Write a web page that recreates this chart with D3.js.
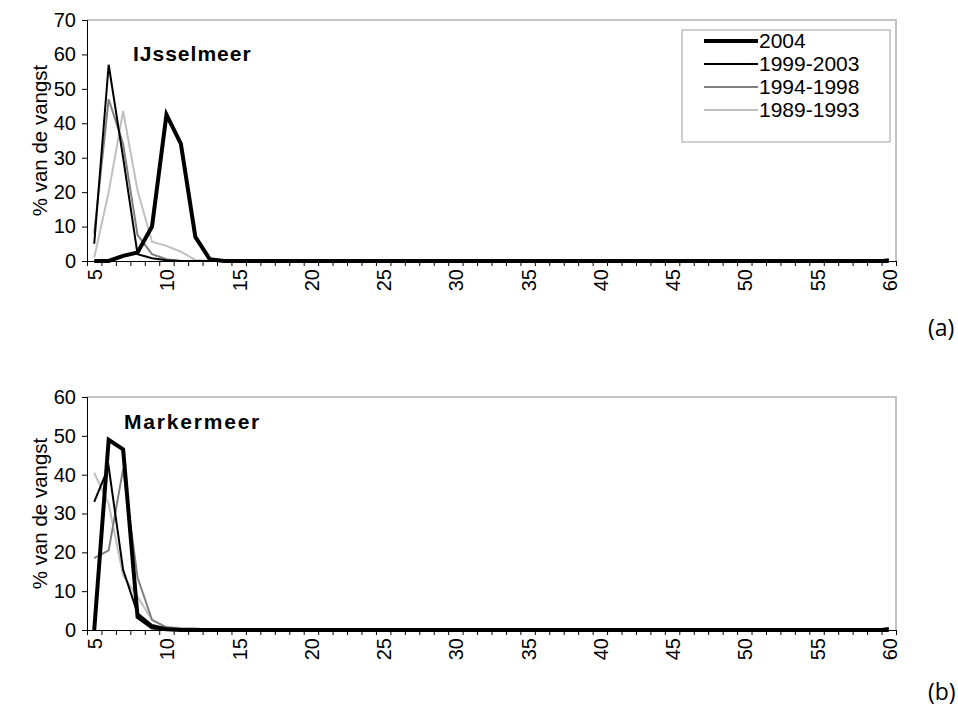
<!DOCTYPE html>
<html>
<head>
<meta charset="utf-8">
<script src="https://cdn.jsdelivr.net/npm/d3@7"></script>
<style>
  body { margin: 0; background: #fff; }
  svg { display: block; font-family: "Liberation Sans", Arial, sans-serif; }
</style>
</head>
<body>
<svg id="chart" width="958" height="709"></svg>
<script>
// length classes (cm), one category per class
const categories = [5,6,7,8,9,10,11,12,13,14,15,16,17,18,19,20,21,22,23,24,25,26,27,28,29,30,
  31,32,33,34,35,36,37,38,39,40,41,42,43,44,45,46,47,48,49,50,51,52,53,54,55,56,57,58,59,60];
const tickLabels = [5,10,15,20,25,30,35,40,45,50,55,60];
const seriesNames = ["2004", "1999-2003", "1994-1998", "1989-1993"];

// IJsselmeer
const ijssel2004 = [0,0,1.5,2.5,10,42.5,34,7,0.5,0,0,0,0,0,0,0,0,0,0,0,0,0,0,0,0,0,0,0,0,0,0,0,0,0,0,0,0,0,0,0,0,0,0,0,0,0,0,0,0,0,0,0,0,0,0,0];
const ijssel9903 = [5,57,30,2,0.8,0.2,0,0,0,0,0,0,0,0,0,0,0,0,0,0,0,0,0,0,0,0,0,0,0,0,0,0,0,0,0,0,0,0,0,0,0,0,0,0,0,0,0,0,0,0,0,0,0,0,0,0.5];
const ijssel9498 = [8,47,34,7.5,2,0.5,0,0,0,0,0,0,0,0,0,0,0,0,0,0,0,0,0,0,0,0,0,0,0,0,0,0,0,0,0,0,0,0,0,0,0,0,0,0,0,0,0,0,0,0,0,0,0,0,0,0];
const ijssel8993 = [1,20,43.5,20.5,5.6,4.4,2.7,0.3,0,0,0,0,0,0,0,0,0,0,0,0,0,0,0,0,0,0,0,0,0,0,0,0,0,0,0,0,0,0,0,0,0,0,0,0,0,0,0,0,0,0,0,0,0,0,0,0];

// Markermeer
const marker2004 = [0,49,46.5,3.4,0.7,0.2,0,0,0,0,0,0,0,0,0,0,0,0,0,0,0,0,0,0,0,0,0,0,0,0,0,0,0,0,0,0,0,0,0,0,0,0,0,0,0,0,0,0,0,0,0,0,0,0,0,0];
const marker9903 = [33,42,15.5,4.3,1.3,0.4,0.1,0,0,0,0,0,0,0,0,0,0,0,0,0,0,0,0,0,0,0,0,0,0,0,0,0,0,0,0,0,0,0,0,0,0,0,0,0,0,0,0,0,0,0,0,0,0,0,0,0.5];
const marker9498 = [18.5,20.5,41.5,13.5,2.6,0.7,0.4,0.3,0.1,0,0,0,0,0,0,0,0,0,0,0,0,0,0,0,0,0,0,0,0,0,0,0,0,0,0,0,0,0,0,0,0,0,0,0,0,0,0,0,0,0,0,0,0,0,0,0];
const marker8993 = [40.5,32.5,14,8.6,2.6,0.7,0.5,0.4,0.2,0,0,0,0,0,0,0,0,0,0,0,0,0,0,0,0,0,0,0,0,0,0,0,0,0,0,0,0,0,0,0,0,0,0,0,0,0,0,0,0,0,0,0,0,0,0,0];

const yTicksTop = [0,10,20,30,40,50,60,70];
const yTicksBottom = [0,10,20,30,40,50,60];

const styles = [
  { color: "#000000", width: 4 },
  { color: "#000000", width: 2 },
  { color: "#808080", width: 2 },
  { color: "#c0c0c0", width: 2 }
];

const svg = d3.select("#chart");
const left = 87, right = 896;

const x = d3.scaleLinear()
  .domain([categories[0] - 0.5, categories[categories.length - 1] + 0.5])
  .range([left, right]);

function drawPanel(cfg) {
  const y = d3.scaleLinear().domain([0, cfg.yMax]).range([cfg.bottom, cfg.top]);
  const g = svg.append("g");

  // plot area border (top + right, light grey)
  g.append("path")
    .attr("d", `M${left},${cfg.top}H${right}V${cfg.bottom}`)
    .attr("fill", "none")
    .attr("stroke", "#b0b0b0")
    .attr("stroke-width", 1.5);

  // y axis
  const yAxis = g.append("g")
    .attr("transform", `translate(${left},0)`)
    .call(d3.axisLeft(y).tickValues(cfg.yTicks).tickSize(5).tickPadding(6));
  yAxis.selectAll("text").attr("font-size", 20).attr("fill", "#000").attr("font-family", "Liberation Sans, Arial, sans-serif");
  yAxis.selectAll("line, path").attr("stroke", "#000");

  // x axis: ticks between categories
  const boundaries = categories.map(c => c - 0.5).concat([categories[categories.length - 1] + 0.5]);
  const xAxis = g.append("g")
    .attr("transform", `translate(0,${cfg.bottom})`)
    .call(d3.axisBottom(x).tickValues(boundaries).tickSize(5).tickFormat(""));
  xAxis.selectAll("line, path").attr("stroke", "#000");

  g.selectAll(".xlab")
    .data(tickLabels)
    .join("text")
    .attr("transform", d => `translate(${x(d) + 1},${cfg.bottom + 8}) rotate(-90)`)
    .attr("text-anchor", "end")
    .attr("dy", "0.35em")
    .attr("font-size", 20)
    .text(d => d);

  // y label
  g.append("text")
    .attr("transform", `translate(40,${(cfg.top + cfg.bottom) / 2}) rotate(-90)`)
    .attr("text-anchor", "middle")
    .attr("dy", "0.35em")
    .attr("font-size", 20.5)
    .text("% van de vangst");

  // title
  g.append("text")
    .attr("x", cfg.titleX)
    .attr("y", cfg.titleY)
    .attr("font-size", cfg.titleSize)
    .attr("font-weight", "bold")
    .attr("letter-spacing", cfg.titleSpacing)
    .text(cfg.title);

  // lines (oldest first so 2004 sits on top)
  const line = d3.line().x((d, i) => x(categories[i])).y(d => y(d));
  cfg.series.map((s, i) => ({ s, i })).reverse().forEach(({ s, i }) => {
    g.append("path")
      .datum(s)
      .attr("d", line)
      .attr("fill", "none")
      .attr("stroke", styles[i].color)
      .attr("stroke-width", styles[i].width)
      .attr("stroke-linejoin", "miter");
  });

  // panel letter
  svg.append("text")
    .attr("x", 928)
    .attr("y", cfg.letterY)
    .attr("font-family", "Open Sans, sans-serif")
    .attr("font-size", 23)
    .text(cfg.letter);

  return g;
}

const topPanel = drawPanel({
  top: 20, bottom: 261, yMax: 70, yTicks: yTicksTop,
  series: [ijssel2004, ijssel9903, ijssel9498, ijssel8993],
  title: "IJsselmeer", titleX: 133, titleY: 61, titleSize: 21, titleSpacing: 1,
  letter: "(a)", letterY: 336
});

drawPanel({
  top: 397, bottom: 630, yMax: 60, yTicks: yTicksBottom,
  series: [marker2004, marker9903, marker9498, marker8993],
  title: "Markermeer", titleX: 124, titleY: 429, titleSize: 21, titleSpacing: 1.8,
  letter: "(b)", letterY: 700
});

// legend (top panel only)
const legend = topPanel.append("g").attr("transform", "translate(682,30)");
legend.append("rect")
  .attr("width", 208).attr("height", 112)
  .attr("fill", "#fff")
  .attr("stroke", "#a0a0a0")
  .attr("stroke-width", 1);
seriesNames.forEach((name, i) => {
  const yy = 11 + i * 23;
  legend.append("line")
    .attr("x1", 22).attr("x2", 76)
    .attr("y1", yy).attr("y2", yy)
    .attr("stroke", styles[i].color)
    .attr("stroke-width", styles[i].width);
  legend.append("text")
    .attr("x", 77).attr("y", yy)
    .attr("dy", "0.35em")
    .attr("font-size", 21)
    .text(name);
});
</script>
</body>
</html>
